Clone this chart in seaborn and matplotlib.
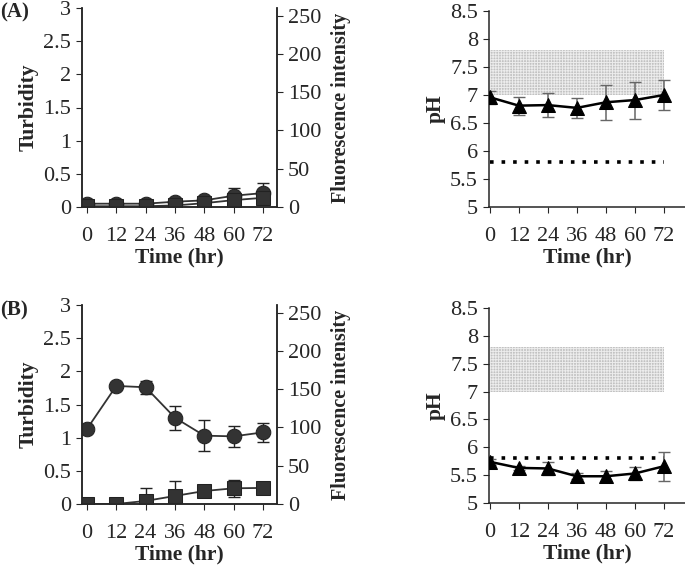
import numpy as np
import pandas as pd
import matplotlib
matplotlib.use('Agg')
import matplotlib.pyplot as plt
import seaborn as sns

# Data
time = [0, 12, 24, 36, 48, 60, 72]

a_turb = [0.05, 0.05, 0.05, 0.08, 0.10, 0.17, 0.21]
a_turb_err = [0.01, 0.01, 0.01, 0.02, 0.04, 0.12, 0.15]
a_fluo = [1, 1, 1, 2, 5, 9, 12]
a_fluo_err = [1, 1, 1, 2, 3, 4, 6]
a_ph = [6.96, 6.81, 6.82, 6.77, 6.87, 6.91, 7.00]
a_ph_err = [0.12, 0.16, 0.21, 0.18, 0.31, 0.33, 0.27]

b_turb = [1.13, 1.78, 1.76, 1.30, 1.03, 1.02, 1.08]
b_turb_err = [0.0, 0.02, 0.10, 0.18, 0.23, 0.16, 0.14]
b_fluo = [0, 0, 4, 10.5, 17, 20.5, 21]
b_fluo_err = [0, 0, 17, 19.5, 3, 11, 3]
b_ph = [5.74, 5.63, 5.62, 5.48, 5.48, 5.53, 5.66]
b_ph_err = [0.05, 0.03, 0.11, 0.05, 0.10, 0.11, 0.26]

ph_band = (7.0, 7.8)
ph_limit = 5.8

sns.set_style('ticks')
plt.rcParams['font.family'] = ['Liberation Serif', 'DejaVu Serif']
plt.rcParams['font.size'] = 16
plt.rcParams['xtick.direction'] = 'out'
plt.rcParams['ytick.direction'] = 'out'
plt.rcParams['xtick.major.size'] = 4.5
plt.rcParams['ytick.major.size'] = 4.5
plt.rcParams['axes.linewidth'] = 1.1
plt.rcParams['hatch.linewidth'] = 0.7

fig = plt.figure(figsize=(6.85, 5.66), dpi=100)
W, H = 685, 566
LAB = 15.5


def box(l, t, r, b):
    return [l / W, (H - b) / H, (r - l) / W, (b - t) / H]


def growth_panel(rect, turb, turb_err, fluo, fluo_err, label, label_y):
    ax = fig.add_axes(rect)
    ax2 = ax.twinx()
    df = pd.DataFrame({'Time': time, 'Turbidity': turb, 'Fluo': fluo})
    ax.errorbar(time, turb, yerr=turb_err, fmt='none', ecolor='#222222',
                elinewidth=1, capsize=4, zorder=1)
    sns.lineplot(data=df, x='Time', y='Turbidity', ax=ax, color='#333333',
                 marker='o', markersize=10.5, markeredgecolor='#222222',
                 linewidth=1.3, zorder=2)
    ax2.errorbar(time, fluo, yerr=fluo_err, fmt='none', ecolor='#222222',
                 elinewidth=1, capsize=4, zorder=1)
    sns.lineplot(data=df, x='Time', y='Fluo', ax=ax2, color='#333333',
                 marker='s', markersize=9.5, markeredgecolor='#222222',
                 linewidth=1.3, zorder=2)
    ax.set_xlim(-2, 77.7)
    ax.set_ylim(0, 3)
    ax2.set_ylim(0, 260)
    ax.set_xticks(time)
    ax.set_yticks([0, 0.5, 1, 1.5, 2, 2.5, 3])
    ax.set_yticklabels(['0', '0.5', '1', '1.5', '2', '2.5', '3'])
    ax2.set_yticks([0, 50, 100, 150, 200, 250])
    ax.set_xlabel('Time (hr)', fontweight='bold', fontsize=LAB, labelpad=1)
    ax.set_ylabel('Turbidity', fontweight='bold', fontsize=LAB, labelpad=3)
    ax2.set_ylabel('Fluorescence intensity', fontweight='bold', fontsize=14.5,
                   labelpad=7)
    ax.spines['top'].set_visible(False)
    ax2.spines['top'].set_visible(False)
    ax.tick_params(axis='x', pad=10)
    fig.text(0.0, label_y, label, fontweight='bold', fontsize=15, va='top')
    return ax


def ph_panel(rect, ph, ph_err):
    ax = fig.add_axes(rect)
    ax.fill_between([0, 72], ph_band[0], ph_band[1], facecolor='#c2c2c2',
                    edgecolor='#ececec', hatch='++++++', linewidth=0, zorder=0)
    ax.plot([0, 72], [ph_limit, ph_limit], linestyle=(0, (1, 2.2)),
            color='black', linewidth=2.6, zorder=1)
    ax.errorbar(time, ph, yerr=ph_err, fmt='none', ecolor='#666666',
                elinewidth=1.1, capsize=4, zorder=2)
    df = pd.DataFrame({'Time': time, 'pH': ph})
    sns.lineplot(data=df, x='Time', y='pH', ax=ax, color='black', marker='^',
                 markersize=10, markeredgecolor='black', linewidth=1.8, zorder=3)
    ax.set_xlim(-0.3, 80.7)
    ax.set_ylim(5, 8.5)
    ax.set_xticks(time)
    ax.set_yticks([5, 5.5, 6, 6.5, 7, 7.5, 8, 8.5])
    ax.set_yticklabels(['5', '5.5', '6', '6.5', '7', '7.5', '8', '8.5'])
    ax.set_xlabel('Time (hr)', fontweight='bold', fontsize=LAB, labelpad=1)
    ax.set_ylabel('pH', fontweight='bold', fontsize=LAB, labelpad=3)
    ax.spines['top'].set_visible(False)
    ax.spines['right'].set_visible(False)
    ax.tick_params(axis='x', pad=10)
    return ax


growth_panel(box(82, 8, 277, 207), a_turb, a_turb_err, a_fluo, a_fluo_err,
             '(A)', 1 - 2 / H)
growth_panel(box(82, 305, 277, 504), b_turb, b_turb_err, b_fluo, b_fluo_err,
             '(B)', 1 - 300 / H)
ph_panel(box(489, 11, 685, 207), a_ph, a_ph_err)
ph_panel(box(489, 308, 685, 503), b_ph, b_ph_err)

fig.savefig('out.png', dpi=100)
